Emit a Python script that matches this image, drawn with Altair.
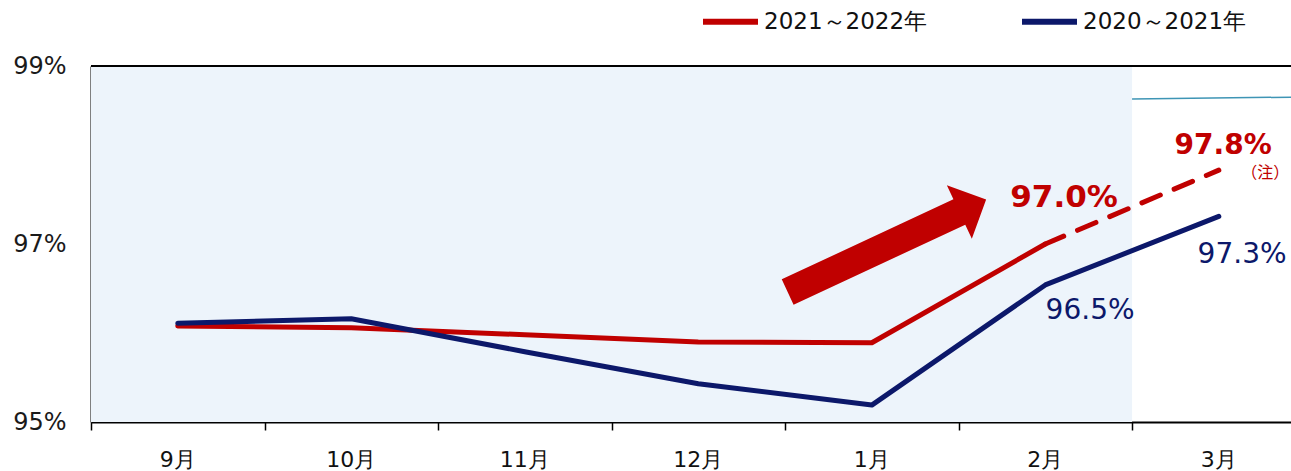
import altair as alt
import pandas as pd

# ---- data ----
months = ["9月", "10月", "11月", "12月", "1月", "2月", "3月"]
series_names = ["2021～2022年", "2020～2021年"]
red_vals = [96.08, 96.06, 95.98, 95.90, 95.89, 97.00]          # 9月–2月 (actual)
red_proj = [97.00, 97.83]                                       # 2月–3月 (dashed)
navy_vals = [96.11, 96.16, 95.79, 95.43, 95.19, 96.54, 97.31]   # 9月–3月

shade_x = [-0.5, 5.5]
thin_x = [5.5, 6.416]
thin_y = [98.63, 98.65]

ann_bold_text = ["97.0%", "97.8%"]
ann_bold_x = [5.108, 6.025]
ann_bold_y = [97.52, 98.10]
ann_bold_size = [31, 28]
note_text = ["（注）"]
note_x = [6.267]
note_y = [97.80]
ann_navy_text = ["96.5%", "97.3%"]
ann_navy_x = [5.258, 6.134]
ann_navy_y = [96.247, 96.871]

arrow_x = [4.087]
arrow_y = [96.98]

RED = "#C00000"
NAVY = "#0C186A"
SHADE = "#EDF4FB"
FONT = "DejaVu Sans"

W, H = 1200, 356
xdom = [-0.5, 6.416]
xs = alt.Scale(domain=xdom, nice=False, zero=False)
ys = alt.Scale(domain=[95, 99], nice=False, zero=False)

# ---- tables ----
line_rows = []
for i, v in enumerate(red_vals):
    line_rows.append({"i": i, "v": v, "s": series_names[0]})
for i, v in enumerate(navy_vals):
    line_rows.append({"i": i, "v": v, "s": series_names[1]})
lines_df = pd.DataFrame(line_rows)
proj_df = pd.DataFrame({"i": [5, 6], "v": red_proj})
shade_df = pd.DataFrame({"x": [shade_x[0]], "x2": [shade_x[1]], "y": [95], "y2": [99]})
thin_df = pd.DataFrame({"x": thin_x, "y": thin_y})
top_df = pd.DataFrame({"x": [xdom[0]], "x2": [xdom[1]], "y": [99]})
month_df = pd.DataFrame({"i": list(range(len(months))), "m": months})
bold_df = pd.DataFrame({"t": ann_bold_text, "x": ann_bold_x, "y": ann_bold_y, "sz": ann_bold_size})
note_df = pd.DataFrame({"t": note_text, "x": note_x, "y": note_y})
navy_ann_df = pd.DataFrame({"t": ann_navy_text, "x": ann_navy_x, "y": ann_navy_y})
arrow_df = pd.DataFrame({"x": arrow_x, "y": arrow_y})

x_axis = alt.Axis(values=[-0.5, 0.5, 1.5, 2.5, 3.5, 4.5, 5.5], labels=False, title=None,
                  grid=False, tickSize=8, tickColor="black", tickWidth=1.5,
                  domainColor="black", domainWidth=2)
y_axis = alt.Axis(values=[95, 97, 99], labelExpr="datum.value + '%'", title=None,
                  grid=False, ticks=False, domainColor="black", domainWidth=2,
                  labelPadding=25, labelFontSize=24, labelFont=FONT, labelColor="#1a1a1a")

shade = alt.Chart(shade_df).mark_rect(color=SHADE).encode(
    x=alt.X("x:Q", scale=xs, axis=x_axis), x2="x2:Q",
    y=alt.Y("y:Q", scale=ys, axis=y_axis), y2="y2:Q")

top_line = alt.Chart(top_df).mark_rule(color="black", strokeWidth=2).encode(
    x=alt.X("x:Q", scale=xs), x2="x2:Q", y=alt.Y("y:Q", scale=ys))

thin = alt.Chart(thin_df).mark_line(color="#3E95B5", strokeWidth=1.5).encode(
    x=alt.X("x:Q", scale=xs), y=alt.Y("y:Q", scale=ys))

lines = alt.Chart(lines_df).mark_line(strokeWidth=5, strokeCap="round", strokeJoin="round").encode(
    x=alt.X("i:Q", scale=xs),
    y=alt.Y("v:Q", scale=ys),
    color=alt.Color("s:N", scale=alt.Scale(domain=series_names, range=[RED, NAVY]),
                    sort=series_names,
                    legend=alt.Legend(title=None, orient="none", legendX=609, legendY=-75,
                                      direction="horizontal", symbolType="stroke",
                                      symbolSize=3025, symbolStrokeWidth=6,
                                      labelFontSize=23, labelFont=FONT, labelColor="#111",
                                      labelLimit=400,
                                      labelOffset=3, columnPadding=82, padding=0)),
    detail="s:N")

proj = alt.Chart(proj_df).mark_line(color=RED, strokeWidth=5, strokeDash=[20, 15],
                                    strokeCap="round").encode(
    x=alt.X("i:Q", scale=xs), y=alt.Y("v:Q", scale=ys))

arrow_path = ("M -1 -0.128 L 0.73 -0.128 L 0.73 -0.27 L 1 0 L 0.73 0.27 "
              "L 0.73 0.128 L -1 0.128 Z")
arrow = alt.Chart(arrow_df).mark_point(shape=arrow_path, filled=True, color=RED, opacity=1,
                                       size=47961, angle=335, strokeWidth=0).encode(
    x=alt.X("x:Q", scale=xs), y=alt.Y("y:Q", scale=ys))

month_labels = alt.Chart(month_df).mark_text(font=FONT, fontSize=22, color="#111",
                                             baseline="middle", align="center").encode(
    x=alt.X("i:Q", scale=xs), y=alt.value(H + 38), text="m:N")

bold_ann = alt.Chart(bold_df).mark_text(font=FONT, fontWeight="bold", color=RED,
                                        baseline="middle", align="center").encode(
    x=alt.X("x:Q", scale=xs), y=alt.Y("y:Q", scale=ys), text="t:N",
    size=alt.Size("sz:Q", scale=None))

note_ann = alt.Chart(note_df).mark_text(font="Noto Sans CJK JP", fontSize=16, color=RED,
                                        baseline="middle", align="center").encode(
    x=alt.X("x:Q", scale=xs), y=alt.Y("y:Q", scale=ys), text="t:N")

navy_ann = alt.Chart(navy_ann_df).mark_text(font=FONT, fontSize=28, color=NAVY,
                                            baseline="middle", align="center").encode(
    x=alt.X("x:Q", scale=xs), y=alt.Y("y:Q", scale=ys), text="t:N")

chart = alt.layer(shade, thin, top_line, lines, proj, arrow, month_labels,
                  bold_ann, note_ann, navy_ann).properties(
    width=W, height=H,
    autosize=alt.AutoSizeParams(type="none"),
    padding={"left": 91, "top": 66, "right": 0, "bottom": 49},
    background="white",
).configure_view(stroke=None).configure(font=FONT)

chart.save("out.html", embed_options={"renderer": "svg", "actions": False})
